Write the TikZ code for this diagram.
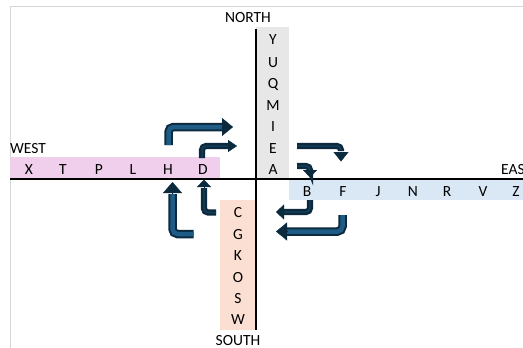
\documentclass[tikz,border=0pt]{standalone}
\usepackage{fontspec}
\setmainfont{Carlito}
\usetikzlibrary{arrows.meta}
\definecolor{arrdark}{HTML}{0B2A3E}
\definecolor{arrblue}{HTML}{1F5C85}
\definecolor{arrmid}{HTML}{173F5B}
\definecolor{bandN}{HTML}{E7E7E7}
\definecolor{bandW}{HTML}{EFCFEC}
\definecolor{bandE}{HTML}{DAE8F5}
\definecolor{bandS}{HTML}{FADFD2}
\definecolor{framegray}{HTML}{D6D6D6}
\tikzset{
  ltr/.style={inner sep=0pt, text height=10pt, text depth=0pt, font=\fontsize{15.5}{18}\selectfont},
  lbl/.style={inner sep=0pt, text height=10pt, text depth=0pt, font=\fontsize{15.5}{18}\selectfont},
  axisline/.style={draw=black, line width=1.6pt},
  bigshaft/.style={draw=arrdark, line width=2pt, double=arrblue, double distance=4.5pt, rounded corners=5pt},
  smallshaft/.style={draw=arrdark, line width=2.4pt, double=arrmid, double distance=1.4pt, rounded corners=4pt},
  headbig/.style={arrdark, line width=0.3pt},
}
\begin{document}
\begin{tikzpicture}[x=1pt,y=-1pt]
\useasboundingbox (0,0) rectangle (523,348);
% frame
\draw[framegray, line width=0.8pt] (10.5,348) -- (10.5,6.5) -- (523,6.5);
% bands
\fill[bandN] (256,27) rectangle (289,179);
\fill[bandW] (10,157) rectangle (220,179);
\fill[bandE] (289,179) rectangle (523,200);
\fill[bandS] (220,200) rectangle (255,330);
% axes
\draw[axisline] (256,29) -- (256,330);
\draw[axisline] (10,179) -- (523,179);
% labels
\node[lbl] (north) at (248,18) {NORTH};
\node[lbl] (south) at (238,340) {SOUTH};
\node[lbl, anchor=west] (west) at (10,148) {WEST};
\node[lbl, anchor=west] (east) at (501,169) {EAST};
% north letters
\foreach \t/\yy [count=\i] in {Y/40,U/62,Q/83,M/105,I/126,E/148,A/169}
  \node[ltr] (n\i) at (273,\yy) {\t};
% west letters
\foreach \t/\xx [count=\i] in {X/29,T/63,P/99,L/133,H/168,D/203}
  \node[ltr] (w\i) at (\xx,169) {\t};
% east letters
\foreach \t/\xx [count=\i] in {B/307,F/343,J/378,N/413,R/447,V/483,Z/516}
  \node[ltr] (e\i) at (\xx,191) {\t};
% south letters
\foreach \t/\yy [count=\i] in {C/212,G/234,K/255,O/277,S/298,W/319}
  \node[ltr] (s\i) at (238,\yy) {\t};
% arrow coordinates
\coordinate (a1s) at (168.5,145);   \coordinate (a1c) at (168.5,127); \coordinate (a1b) at (222,127); \coordinate (a1t) at (233,127);
\coordinate (a2s) at (202,158);     \coordinate (a2c) at (202,146);   \coordinate (a2b) at (228,146); \coordinate (a2t) at (237,146);
\coordinate (a3s) at (297,146);     \coordinate (a3c) at (341,146);   \coordinate (a3b) at (341,152); \coordinate (a3t) at (341,161.5);
\coordinate (a4s) at (297,166);     \coordinate (a4c) at (310,166);   \coordinate (a4b) at (310,170); \coordinate (a4t) at (310,177.5);
\coordinate (a5s) at (310,200);     \coordinate (a5c) at (310,212);   \coordinate (a5b) at (284,212); \coordinate (a5t) at (276,212);
\coordinate (a6s) at (342.5,215);   \coordinate (a6c) at (342.5,231.5); \coordinate (a6b) at (287,231.5); \coordinate (a6t) at (276,231.5);
\coordinate (a7s) at (216,212.5);   \coordinate (a7c) at (204,212.5); \coordinate (a7b) at (204,187); \coordinate (a7t) at (204,179.5);
\coordinate (a8s) at (193.5,234);   \coordinate (a8c) at (172.5,234); \coordinate (a8b) at (172.5,193); \coordinate (a8t) at (172.5,182);
% shafts
\draw[bigshaft] (a1s) -- (a1c) -- ([xshift=1pt]a1b);
\draw[smallshaft] (a2s) -- (a2c) -- ([xshift=1pt]a2b);
\draw[smallshaft] (a3s) -- (a3c) -- ([yshift=1pt]a3b);
\draw[smallshaft] (a4s) -- (a4c) -- ([yshift=1pt]a4b);
\draw[smallshaft] (a5s) -- (a5c) -- ([xshift=-1pt]a5b);
\draw[bigshaft] (a6s) -- (a6c) -- ([xshift=-1pt]a6b);
\draw[smallshaft] (a7s) -- (a7c) -- ([yshift=-1pt]a7b);
\draw[bigshaft] (a8s) -- (a8c) -- ([yshift=-1pt]a8b);
% heads
\draw[headbig, -{Triangle[length=11pt,width=18pt]}] (a1b) -- (a1t);
\draw[headbig, -{Triangle[length=9pt,width=12pt]}] (a2b) -- (a2t);
\draw[headbig, -{Triangle[length=9.5pt,width=15pt]}] (a3b) -- (a3t);
\draw[headbig, -{Triangle[length=7.5pt,width=14pt]}] (a4b) -- (a4t);
\draw[headbig, -{Triangle[length=8pt,width=15pt]}] (a5b) -- (a5t);
\draw[headbig, -{Triangle[length=11pt,width=18pt]}] (a6b) -- (a6t);
\draw[headbig, -{Triangle[length=7.5pt,width=14pt]}] (a7b) -- (a7t);
\draw[headbig, -{Triangle[length=11pt,width=19pt]}] (a8b) -- (a8t);
\end{tikzpicture}
\end{document}
